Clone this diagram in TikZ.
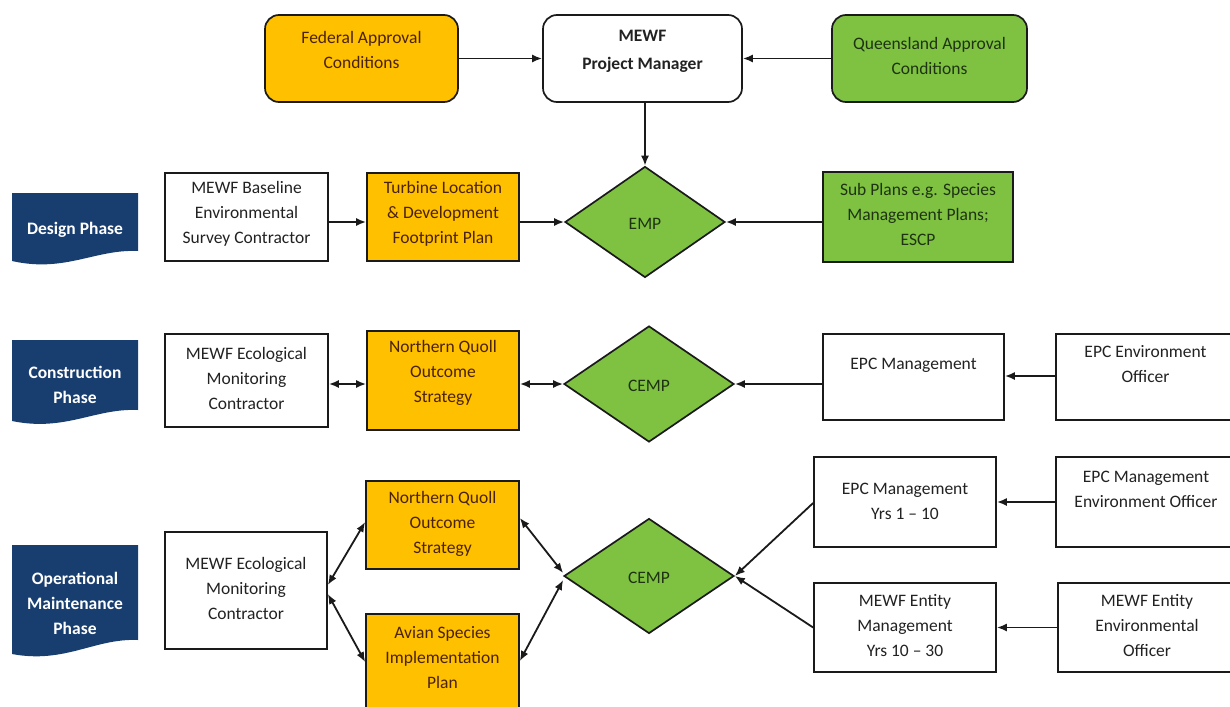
\documentclass[tikz,border=0pt]{standalone}
\usepackage{fontspec}
\setmainfont{Carlito}
\usetikzlibrary{shapes.geometric,arrows.meta,fit}
\definecolor{orangeC}{HTML}{FFC000}
\definecolor{greenC}{RGB}{127,194,66}
\definecolor{navyC}{HTML}{183E70}
\definecolor{lineC}{HTML}{1A1A1A}
\definecolor{otext}{HTML}{4A2206}
\definecolor{gtext}{HTML}{1E3312}
\definecolor{wtext}{HTML}{222222}
\tikzset{
  boxbase/.style={draw=lineC, line width=1.7pt, inner sep=0pt},
  wbox/.style={boxbase, fill=white},
  obox/.style={boxbase, fill=orangeC},
  gbox/.style={boxbase, fill=greenC},
  rbox/.style={rounded corners=14pt},
  dia/.style={diamond, draw=lineC, line width=1.7pt, fill=greenC, inner sep=0pt},
  txt/.style={font=\fontsize{17.5}{25}\selectfont, align=center, inner sep=0pt, text=wtext},
  otxt/.style={txt, text=otext},
  gtxt/.style={txt, text=gtext},
  tagtxt/.style={txt, text=white, font=\fontsize{17.5}{25}\selectfont\bfseries},
  tagshape/.style={fill=navyC},
  arr/.style={line width=1.8pt, draw=lineC, -{Latex[length=10pt,width=8pt]}},
  darr/.style={line width=1.8pt, draw=lineC, {Latex[length=10pt,width=8pt]}-{Latex[length=10pt,width=8pt]}}
}
\begin{document}
\begin{tikzpicture}[x=1pt,y=-1pt]
\clip (0,0) rectangle (1230,706);
\fill[white] (0,0) rectangle (1230,706);

% ---------- top row ----------
\node[obox, rbox, fit={(265,15)(458,102)}] (fed) {};
\node[otxt] (fedt) at (361.5,50) {Federal Approval\\Conditions};
\node[wbox, rbox, fit={(543,15)(742,102)}] (pm) {};
\node[txt, font=\fontsize{17.5}{28}\selectfont\bfseries] (pmt) at (642.5,51) {MEWF\\Project Manager};
\node[gbox, rbox, fit={(832,15)(1027,102)}] (qld) {};
\node[gtxt] (qldt) at (929.5,56) {Queensland Approval\\Conditions};

% ---------- design row ----------
\path[tagshape] (12,193) -- (138,193) -- (138,251) .. controls (95,249) and (65,273) .. (12,261) -- cycle;
\node[tagtxt] (tag1) at (75,230) {Design Phase};
\node[wbox, fit={(165,173)(328,261)}] (base) {};
\node[txt] (baset) at (246.5,214) {MEWF Baseline\\Environmental\\Survey Contractor};
\node[obox, fit={(367,173)(519,261)}] (turb) {};
\node[otxt] (turbt) at (443,214) {Turbine Location\\\& Development\\Footprint Plan};
\node[dia, minimum width=160pt, minimum height=111pt] (emp) at (645,222) {};
\node[gtxt] (empt) at (645,224) {EMP};
\node[gbox, fit={(823,172)(1013,262)}] (sub) {};
\node[gtxt] (subt) at (918,214) {Sub Plans e.g. Species\\Management Plans;\\ESCP};

% ---------- construction row ----------
\path[tagshape] (12,340) -- (138,340) -- (138,410) .. controls (95,408) and (65,432) .. (12,421) -- cycle;
\node[tagtxt] (tag2) at (75,385) {Construction\\Phase};
\node[wbox, fit={(165,334)(328,427)}] (eco1) {};
\node[txt] (eco1t) at (246.5,378) {MEWF Ecological\\Monitoring\\Contractor};
\node[obox, fit={(367,331)(519,430)}] (nq1) {};
\node[otxt] (nq1t) at (443,373) {Northern Quoll\\Outcome\\Strategy};
\node[dia, minimum width=170pt, minimum height=116pt] (cemp1) at (649,384) {};
\node[gtxt] (cemp1t) at (649,386) {CEMP};
\node[wbox, fit={(823,334)(1004,420)}] (epc1) {};
\node[txt] (epc1t) at (913.5,365) {EPC Management};
\node[wbox, fit={(1056,334)(1240,420)}] (env1) {};
\node[txt] (env1t) at (1145.5,364.5) {EPC Environment\\Officer};

% ---------- operational row ----------
\path[tagshape] (12,545) -- (138,545) -- (138,640) .. controls (95,638) and (65,664) .. (12,654) -- cycle;
\node[tagtxt] (tag3) at (75,603) {Operational\\Maintenance\\Phase};
\node[wbox, fit={(165,532)(327,649)}] (eco2) {};
\node[txt] (eco2t) at (246,588) {MEWF Ecological\\Monitoring\\Contractor};
\node[obox, fit={(366,481)(519,569)}] (nq2) {};
\node[otxt] (nq2t) at (442.5,524) {Northern Quoll\\Outcome\\Strategy};
\node[obox, fit={(366,614)(519,712)}] (avi) {};
\node[otxt] (avit) at (442.5,658) {Avian Species\\Implementation\\Plan};
\node[dia, minimum width=170pt, minimum height=115pt] (cemp2) at (649,576) {};
\node[gtxt] (cemp2t) at (649,578) {CEMP};
\node[wbox, fit={(814,457)(996,547)}] (epc2) {};
\node[txt] (epc2t) at (905,501.5) {EPC Management\\Yrs 1 -- 10};
\node[wbox, fit={(1056,457)(1240,547)}] (env2) {};
\node[txt] (env2t) at (1146,489) {EPC Management\\Environment Officer};
\node[wbox, fit={(814,583)(996,672)}] (ent) {};
\node[txt] (entt) at (905,626) {MEWF Entity\\Management\\Yrs 10 -- 30};
\node[wbox, fit={(1058,583)(1240,672)}] (entoff) {};
\node[txt] (entofft) at (1147,626) {MEWF Entity\\Environmental\\Officer};

% ---------- connectors ----------
\draw[arr] (fed.east) -- (pm.west);
\draw[arr] (qld.west) -- (pm.east);
\draw[arr] (pm.south -| emp.north) -- (emp.north);

\draw[arr] (base.east |- emp.west) -- (turb.west |- emp.west);
\draw[arr] (turb.east |- emp.west) -- (emp.west);
\draw[arr] (sub.west |- emp.east) -- (emp.east);

\draw[darr] (eco1.east |- cemp1.west) -- (nq1.west |- cemp1.west);
\draw[darr] (nq1.east |- cemp1.west) -- (cemp1.west);
\draw[arr] (epc1.west |- cemp1.east) -- (cemp1.east);
\draw[arr] ([yshift=1pt]env1.west) -- ([yshift=1pt]epc1.east);

\draw[darr] ([yshift=5.5pt]eco2.east) -- ([yshift=3pt]nq2.west);
\draw[darr] ([yshift=-3.5pt]eco2.east) -- ([yshift=1pt]avi.west);
\draw[darr] ([yshift=7pt]nq2.east) -- ([yshift=3pt]cemp2.west);
\draw[darr] ([yshift=2pt]avi.east) -- ([yshift=-4pt]cemp2.west);
\draw[arr] ([yshift=-1pt]epc2.west) -- (cemp2.east);
\draw[arr] (ent.west) -- (cemp2.east);
\draw[arr] (env2.west) -- (epc2.east);
\draw[arr] (entoff.west) -- (ent.east);
\end{tikzpicture}
\end{document}
